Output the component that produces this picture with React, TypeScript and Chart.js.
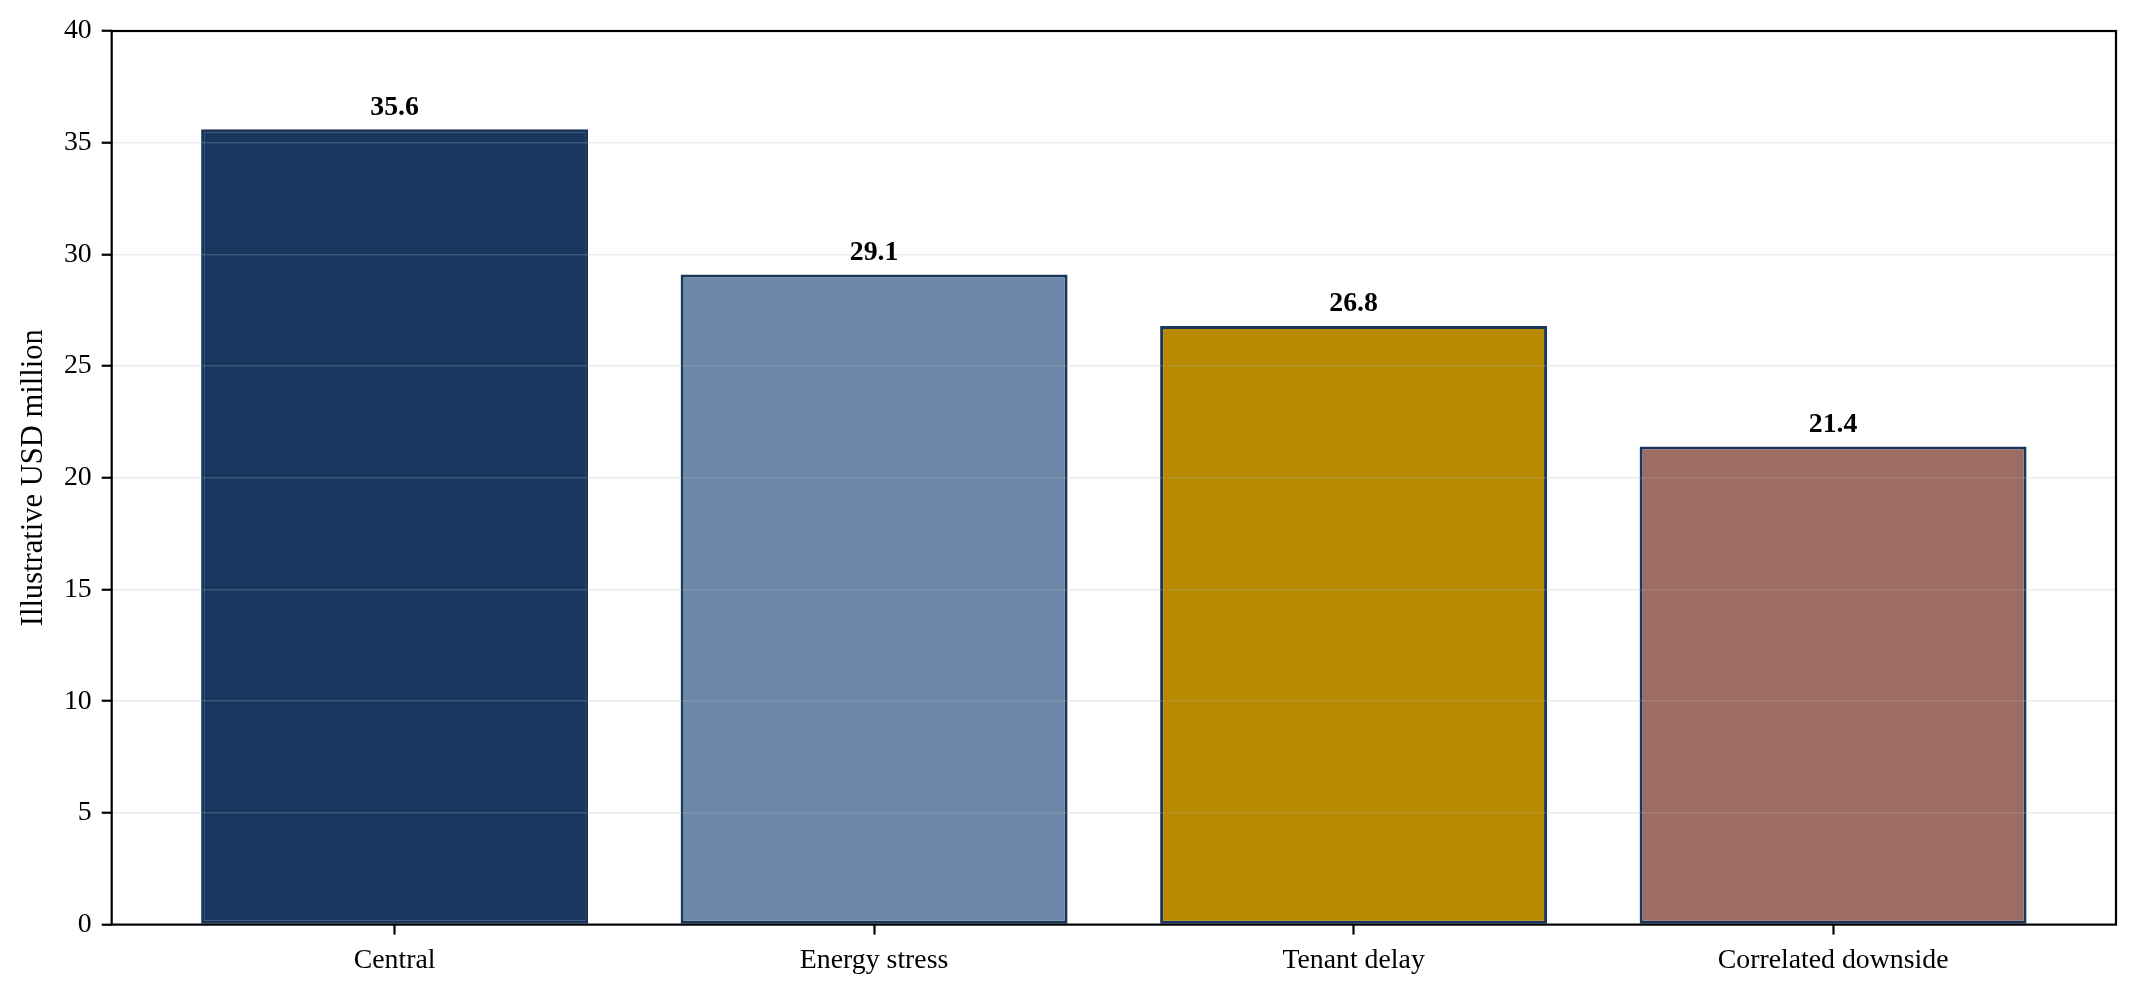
import React, { useEffect, useRef } from "react";
import { Chart, registerables } from "chart.js";

Chart.register(...registerables);

const categories = ["Central", "Energy stress", "Tenant delay", "Correlated downside"];
const values = [35.6, 29.1, 26.8, 21.4];
const fillColors = ["#19365e", "#6c88a8", "#b78a00", "#9d6c62"];
const edgeColor = "#1a365d";
const yTicks = [0, 5, 10, 15, 20, 25, 30, 35, 40];
const yLabel = "Illustrative USD million";

const FONT = "'Liberation Serif', 'Times New Roman', Times, serif";
const W = 2137;
const H = 995;

export default function App() {
  const ref = useRef<HTMLCanvasElement | null>(null);

  useEffect(() => {
    if (!ref.current) return;

    const framePlugin = {
      id: "frameAndLabels",
      afterDraw(chart: any) {
        const { ctx, chartArea } = chart;
        ctx.save();
        // value labels
        const meta = chart.getDatasetMeta(0);
        ctx.font = `bold 27.8px ${FONT}`;
        ctx.fillStyle = "#000";
        ctx.textAlign = "center";
        ctx.textBaseline = "alphabetic";
        meta.data.forEach((el: any, i: number) => {
          ctx.fillText(values[i].toFixed(1), el.x, el.y - 14.5);
        });
        // frame
        ctx.strokeStyle = "#000";
        ctx.lineWidth = 2.2;
        ctx.strokeRect(
          chartArea.left,
          chartArea.top,
          chartArea.right - chartArea.left,
          chartArea.bottom - chartArea.top
        );
        ctx.restore();
      },
    };

    const chart = new Chart(ref.current, {
      type: "bar",
      data: {
        datasets: [
          {
            data: values.map((v, i) => ({ x: i, y: v })) as any,
            backgroundColor: fillColors,
            borderColor: edgeColor,
            borderWidth: 3,
            borderSkipped: false,
            categoryPercentage: 0.807,
            barPercentage: 1.0,
          },
        ],
      },
      options: {
        responsive: false,
        animation: false,
        layout: { padding: { top: 31, right: 21, left: 0, bottom: 0 } },
        plugins: {
          legend: { display: false },
          tooltip: { enabled: false },
          title: { display: false },
        },
        scales: {
          x: {
            type: "linear",
            min: -0.59,
            max: 3.59,
            offset: false,
            afterBuildTicks: (axis: any) => {
              axis.ticks = categories.map((_, i) => ({ value: i }));
            },
            afterFit: (scale: any) => {
              scale.height = 70.4;
            },
            border: { display: false },
            grid: {
              display: true,
              offset: false,
              drawOnChartArea: false,
              drawTicks: true,
              tickLength: 10,
              tickColor: "#000",
              tickWidth: 2.2,
            },
            ticks: {
              autoSkip: false,
              maxRotation: 0,
              padding: 9,
              color: "#000",
              font: { family: FONT, size: 27.8 },
              callback: (v: any) => categories[Math.round(Number(v))] ?? "",
            },
          },
          y: {
            type: "linear",
            min: 0,
            max: 40,
            afterBuildTicks: (axis: any) => {
              axis.ticks = yTicks.map((v) => ({ value: v }));
            },
            afterFit: (scale: any) => {
              scale.width = 111.7;
            },
            border: { display: false },
            grid: {
              z: 1,
              color: "rgba(176,176,176,0.25)",
              lineWidth: 1.5,
              drawTicks: true,
              tickLength: 10,
              tickColor: "#000",
              tickWidth: 2.2,
            },
            ticks: {
              padding: 10,
              color: "#000",
              font: { family: FONT, size: 27.8 },
              callback: (v: any) => String(v),
            },
            title: {
              display: true,
              text: yLabel,
              color: "#000",
              font: { family: FONT, size: 30.56 },
              padding: { top: 16, bottom: 0 },
            },
          },
        },
      },
      plugins: [framePlugin],
    } as any);

    return () => chart.destroy();
  }, []);

  return (
    <div
      style={{
        position: "absolute",
        left: 0,
        top: 0,
        width: W,
        height: H,
        background: "#fff",
      }}
    >
      <canvas ref={ref} width={W} height={H} style={{ width: W, height: H, display: "block" }} />
    </div>
  );
}
